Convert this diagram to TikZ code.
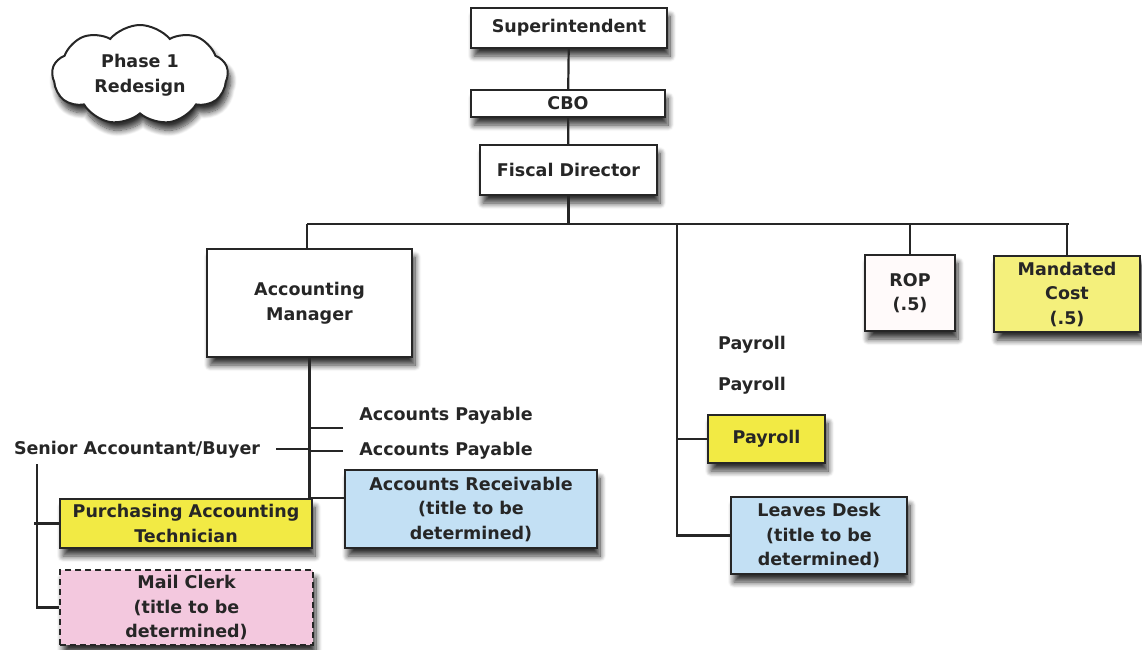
\documentclass[tikz,border=0pt]{standalone}
\usepackage{fontspec}
\setmainfont{DejaVu Sans}
\usetikzlibrary{shapes.symbols,shadows.blur}
\definecolor{yel}{HTML}{F2EA44}
\definecolor{paleyel}{HTML}{F4F07C}
\definecolor{blu}{HTML}{C3E0F4}
\definecolor{pnk}{HTML}{F3C8DE}
\definecolor{ropw}{HTML}{FFFAFA}
\definecolor{ink}{HTML}{262626}
\begin{document}
\begin{tikzpicture}[x=1pt,y=-1pt,
  txt/.style={font=\fontsize{17.5}{24.5}\selectfont\bfseries, text=ink, align=center, inner sep=0pt},
  shad/.style={blur shadow={shadow xshift=3pt, shadow yshift=-8pt, shadow opacity=80, shadow blur radius=6pt, shadow blur steps=10}},
  box/.style={txt, draw=ink, line width=2.2pt, fill=white, shad},
  conn/.style={draw=ink, line width=2.2pt}
]
\useasboundingbox (0,0) rectangle (1142,649);

% cloud
\node[txt, cloud, cloud puffs=9, cloud puff arc=100, aspect=1.75, draw=ink, line width=2pt, fill=white,
      minimum width=176pt, minimum height=100pt, shad]
      (cloud) at (140,75) {Phase 1\\Redesign};

% boxes
\node[box, minimum width=196pt, minimum height=40pt] (sup) at (569,28) {Superintendent};
\node[box, minimum width=194pt, minimum height=27pt] (cbo) at (568,103.5) {CBO};
\node[box, minimum width=177pt, minimum height=50pt] (fd) at (568.5,170) {Fiscal Director};
\node[box, minimum width=205pt, minimum height=108pt] (am) at (309.5,303) {Accounting\\Manager};
\node[box, fill=ropw, minimum width=90pt, minimum height=76pt] (rop) at (910,293) {ROP\\(.5)};
\node[box, fill=paleyel, minimum width=146pt, minimum height=76pt] (mc) at (1067,294) {Mandated\\Cost\\(.5)};
\node[box, fill=yel, minimum width=117pt, minimum height=48pt] (pay) at (766.5,439) {Payroll};
\node[box, fill=blu, minimum width=176pt, minimum height=77pt] (ld) at (819,535.5) {Leaves Desk\\(title to be\\determined)};
\node[box, fill=blu, minimum width=252pt, minimum height=78pt] (ar) at (471,509) {Accounts Receivable\\(title to be\\determined)};
\node[box, fill=yel, minimum width=252pt, minimum height=49pt] (pat) at (186,523.5) {Purchasing Accounting\\Technician};
\node[box, fill=pnk, dash pattern=on 6pt off 4pt, minimum width=253pt, minimum height=75pt] (mail) at (186.5,607.5) {Mail Clerk\\(title to be\\determined)};

% free labels
\node[txt] (p1) at (752,345) {Payroll};
\node[txt] (p2) at (752,386) {Payroll};
\node[txt] (ap1) at (446,416) {Accounts Payable};
\node[txt] (ap2) at (446,451) {Accounts Payable};
\node[txt] (sab) at (137,450) {Senior Accountant/Buyer};

% connector coordinates
\coordinate (bL) at (307,224);
\coordinate (bR) at (1069,224);
\coordinate (pv) at (677,224);
\coordinate (sv) at (37,464);
\coordinate (ap1e) at (343,428);
\coordinate (ap2e) at (343,451);
\coordinate (sabe) at (276,449);

% connectors
\draw[conn] (sup) -- (cbo);
\draw[conn] (cbo) -- (fd);
\draw[conn] (fd.south) -- (fd.south |- bL);
\draw[conn] (bL) -- (bR);
\draw[conn] (bL) -- (bL |- am.north);
\draw[conn] (rop.north) -- (rop.north |- bL);
\draw[conn] (mc.north) -- (mc.north |- bR);
\draw[conn] (pv) |- (ld.west);
\draw[conn] (pay.west) -- (pay.west -| pv);
\draw[conn] (am.south) |- ([yshift=11pt]ar.west);
\draw[conn] (ap1e) -- (ap1e -| am.south);
\draw[conn] (ap2e) -- (ap2e -| am.south);
\draw[conn] (sabe) -- (sabe -| am.south);
\draw[conn] (sv) |- (mail.west);
\draw[conn] (pat.west) -- ([xshift=-3pt]pat.west -| sv);
\end{tikzpicture}
\end{document}
